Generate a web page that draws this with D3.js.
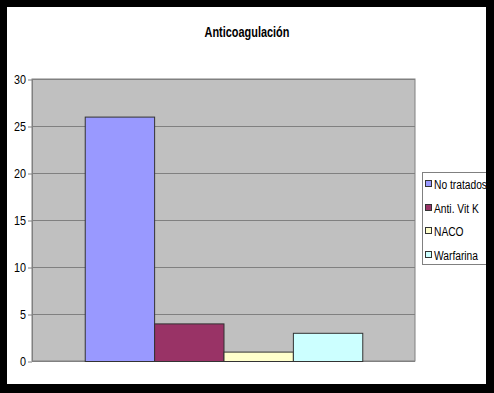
<!DOCTYPE html>
<html lang="es">
    <head>
        <meta charset="utf-8">
        <title>Anticoagulación</title>
        <script src="https://d3js.org/d3.v7.min.js"></script>
        <style type="text/css">
        body {
            margin: 0;
            background-color: white;
        }
        svg {
            display: block;
            font-family: "Liberation Sans", Arial, sans-serif;
        }
        </style>
    </head>
    <body>
        <script>
        // datos
        var category = "Anticoagulación";
        var series = ["No tratados", "Anti. Vit K", "NACO", "Warfarina"];
        var values = [26, 4, 1, 3];
        var colors = ["#9999ff", "#993366", "#ffffcc", "#ccffff"];
        var yTicks = [0, 5, 10, 15, 20, 25, 30];

        var width = 494,
            height = 393;

        // la fuente original es estrecha: se comprime en horizontal
        var squeeze = 0.82;

        var svg = d3.select("body").append("svg")
            .attr("width", width)
            .attr("height", height);

        // marco negro
        svg.append("rect").attr("x", 0).attr("y", 0).attr("width", width).attr("height", height).attr("fill", "black");
        svg.append("rect").attr("x", 7).attr("y", 7).attr("width", 479).attr("height", 377).attr("fill", "white");

        var plot = { left: 32, right: 415, top: 79, bottom: 361 };

        var y = d3.scaleLinear().domain([0, 30]).range([plot.bottom, plot.top]);

        var x0 = d3.scaleBand().domain([category]).range([plot.left, plot.right]).paddingInner(0).paddingOuter(0.19);
        var x1 = d3.scaleBand().domain(series).range([0, x0.bandwidth()]);

        svg.append("rect")
            .attr("x", plot.left).attr("y", plot.top)
            .attr("width", plot.right - plot.left).attr("height", plot.bottom - plot.top)
            .attr("fill", "#c0c0c0")
            .attr("stroke", "#808080");

        // rejilla
        svg.append("g").selectAll("line")
            .data(yTicks)
            .enter().append("line")
            .attr("x1", plot.left).attr("x2", plot.right)
            .attr("y1", function(d) { return y(d) + 0.5; })
            .attr("y2", function(d) { return y(d) + 0.5; })
            .attr("stroke", "#808080");

        var yAxis = d3.axisLeft(y).tickValues(yTicks).tickSize(4).tickFormat("");
        var gy = svg.append("g")
            .attr("transform", "translate(" + plot.left + ",0.5)")
            .call(yAxis);
        gy.selectAll("path, line").attr("stroke", "#808080");
        gy.select(".domain").remove();

        svg.append("g").selectAll("text")
            .data(yTicks)
            .enter().append("text")
            .attr("transform", function(d) { return "translate(26," + (y(d) + 4.5) + ") scale(0.9,1)"; })
            .attr("text-anchor", "end")
            .attr("font-size", 12)
            .text(function(d) { return d; });

        svg.append("line")
            .attr("x1", plot.left + 0.5).attr("x2", plot.left + 0.5)
            .attr("y1", plot.top).attr("y2", plot.bottom)
            .attr("stroke", "#808080");

        // barras
        svg.append("g").selectAll("rect")
            .data(values)
            .enter().append("rect")
            .attr("x", function(d, i) { return x0(category) + x1(series[i]) + 0.5; })
            .attr("y", function(d) { return y(d) + 0.5; })
            .attr("width", x1.bandwidth())
            .attr("height", function(d) { return y(0) - y(d); })
            .attr("fill", function(d, i) { return colors[i]; })
            .attr("stroke", "#333333")
            .append("title")
            .text(function(d, i) { return series[i] + ": " + d; });

        // título
        svg.append("text")
            .attr("transform", "translate(247,37) scale(0.78,1)")
            .attr("text-anchor", "middle")
            .attr("font-weight", "bold")
            .attr("font-size", 14)
            .text(category);

        // leyenda
        svg.append("rect")
            .attr("x", 422.5).attr("y", 172.5)
            .attr("width", 70).attr("height", 92)
            .attr("fill", "white")
            .attr("stroke", "#808080");

        var legend = svg.append("g").selectAll("g")
            .data(series)
            .enter().append("g")
            .attr("transform", function(d, i) { return "translate(425," + Math.round(184 + i * 23.5) + ")"; });

        legend.append("rect")
            .attr("x", 0.5).attr("y", -3.5)
            .attr("width", 6).attr("height", 6)
            .attr("fill", function(d, i) { return colors[i]; })
            .attr("stroke", "#333333");

        legend.append("text")
            .attr("transform", "translate(9,4.5) scale(" + squeeze + ",1)")
            .attr("font-size", 12.5)
            .text(function(d) { return d; });

        // el marco tapa la leyenda por la derecha
        svg.append("rect").attr("x", 486).attr("y", 0).attr("width", 8).attr("height", height).attr("fill", "black");
        </script>
    </body>
</html>
